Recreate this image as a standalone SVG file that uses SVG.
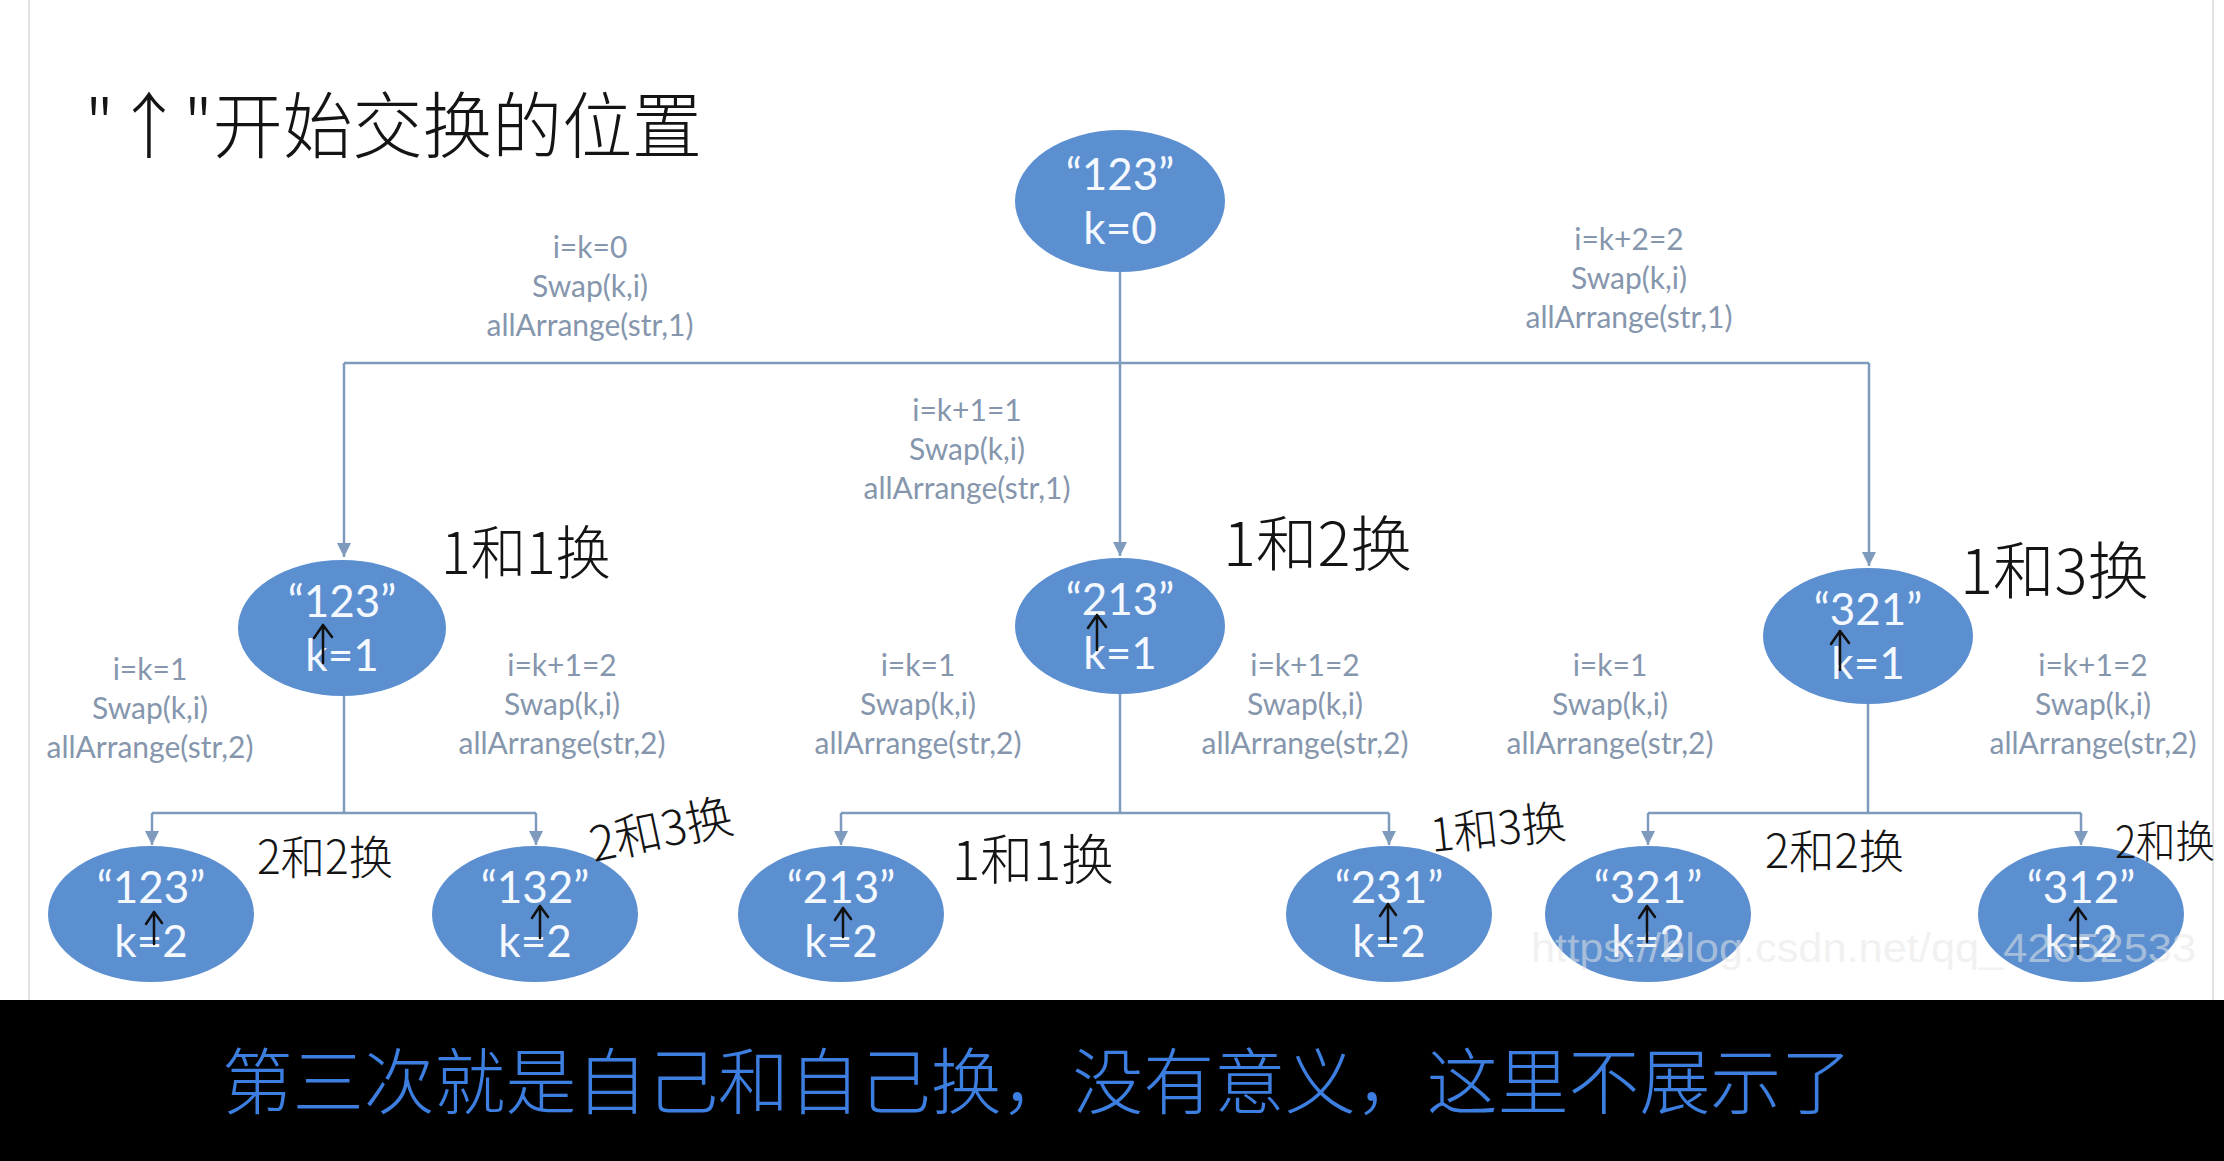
<svg xmlns="http://www.w3.org/2000/svg" width="2224" height="1161" viewBox="0 0 2224 1161">
<style>
.node ellipse{fill:#5b8fd0;}
.nt{font-family:Lato,"Liberation Sans",sans-serif;font-size:44px;fill:#f4f8ff;text-anchor:middle;}
.lbl{font-family:Lato,"Liberation Sans",sans-serif;font-size:30px;fill:#8596ad;text-anchor:middle;}
.conn path{stroke:#7e9bbd;stroke-width:2.5;fill:none;}
.hw{font-family:"Noto Sans CJK SC",sans-serif;font-weight:300;fill:#141414;}
.ha{stroke:#111;stroke-width:2.5;fill:none;stroke-linecap:round;stroke-linejoin:round;}
</style>
<defs>
<marker id="ah" markerWidth="16" markerHeight="16" refX="14" refY="7" orient="auto" markerUnits="userSpaceOnUse">
<path d="M0,0 L14,7 L0,14 Z" fill="#7e9bbd"/>
</marker>
</defs>
<rect x="0" y="0" width="2224" height="1161" fill="#ffffff"/>
<line x1="29" y1="0" x2="29" y2="1000" stroke="#e2e2e2" stroke-width="2"/>
<line x1="2213" y1="0" x2="2213" y2="1000" stroke="#e2e2e2" stroke-width="2"/>

<g id="connectors" class="conn">
<path d="M1120,272 V363"/>
<path d="M344,363 H1869"/>
<path d="M344,363 V557" marker-end="url(#ah)"/>
<path d="M1120,363 V556" marker-end="url(#ah)"/>
<path d="M1869,363 V566" marker-end="url(#ah)"/>
<path d="M344,696 V813"/>
<path d="M152,813 H536"/>
<path d="M152,813 V845" marker-end="url(#ah)"/>
<path d="M536,813 V845" marker-end="url(#ah)"/>
<path d="M1120,694 V813"/>
<path d="M841,813 H1389"/>
<path d="M841,813 V845" marker-end="url(#ah)"/>
<path d="M1389,813 V845" marker-end="url(#ah)"/>
<path d="M1868,704 V813"/>
<path d="M1648,813 H2081"/>
<path d="M1648,813 V845" marker-end="url(#ah)"/>
<path d="M2081,813 V845" marker-end="url(#ah)"/>
</g>

<g id="labels">
<text class="lbl" x="590" y="258">i=k=0</text>
<text class="lbl" x="590" y="297">Swap(k,i)</text>
<text class="lbl" x="590" y="336">allArrange(str,1)</text>
<text class="lbl" x="1629" y="250">i=k+2=2</text>
<text class="lbl" x="1629" y="289">Swap(k,i)</text>
<text class="lbl" x="1629" y="328">allArrange(str,1)</text>
<text class="lbl" x="967" y="421">i=k+1=1</text>
<text class="lbl" x="967" y="460">Swap(k,i)</text>
<text class="lbl" x="967" y="499">allArrange(str,1)</text>
<text class="lbl" x="150" y="680">i=k=1</text>
<text class="lbl" x="150" y="719">Swap(k,i)</text>
<text class="lbl" x="150" y="758">allArrange(str,2)</text>
<text class="lbl" x="562" y="676">i=k+1=2</text>
<text class="lbl" x="562" y="715">Swap(k,i)</text>
<text class="lbl" x="562" y="754">allArrange(str,2)</text>
<text class="lbl" x="918" y="676">i=k=1</text>
<text class="lbl" x="918" y="715">Swap(k,i)</text>
<text class="lbl" x="918" y="754">allArrange(str,2)</text>
<text class="lbl" x="1305" y="676">i=k+1=2</text>
<text class="lbl" x="1305" y="715">Swap(k,i)</text>
<text class="lbl" x="1305" y="754">allArrange(str,2)</text>
<text class="lbl" x="1610" y="676">i=k=1</text>
<text class="lbl" x="1610" y="715">Swap(k,i)</text>
<text class="lbl" x="1610" y="754">allArrange(str,2)</text>
<text class="lbl" x="2093" y="676">i=k+1=2</text>
<text class="lbl" x="2093" y="715">Swap(k,i)</text>
<text class="lbl" x="2093" y="754">allArrange(str,2)</text>
</g>

<g id="n0" class="node"><ellipse cx="1120" cy="201" rx="105" ry="71"/><text class="nt" x="1120" y="190">“123”</text><text class="nt" x="1120" y="244">k=0</text></g>
<g id="n1" class="node"><ellipse cx="342" cy="628" rx="104" ry="68"/><text class="nt" x="342" y="617">“123”</text><text class="nt" x="342" y="671">k=1</text></g>
<g id="n2" class="node"><ellipse cx="1120" cy="626" rx="105" ry="68"/><text class="nt" x="1120" y="615">“213”</text><text class="nt" x="1120" y="669">k=1</text></g>
<g id="n3" class="node"><ellipse cx="1868" cy="636" rx="105" ry="68"/><text class="nt" x="1868" y="625">“321”</text><text class="nt" x="1868" y="679">k=1</text></g>
<g id="n4" class="node"><ellipse cx="151" cy="914" rx="103" ry="68"/><text class="nt" x="151" y="903">“123”</text><text class="nt" x="151" y="957">k=2</text></g>
<g id="n5" class="node"><ellipse cx="535" cy="914" rx="103" ry="68"/><text class="nt" x="535" y="903">“132”</text><text class="nt" x="535" y="957">k=2</text></g>
<g id="n6" class="node"><ellipse cx="841" cy="914" rx="103" ry="68"/><text class="nt" x="841" y="903">“213”</text><text class="nt" x="841" y="957">k=2</text></g>
<g id="n7" class="node"><ellipse cx="1389" cy="914" rx="103" ry="68"/><text class="nt" x="1389" y="903">“231”</text><text class="nt" x="1389" y="957">k=2</text></g>
<g id="n8" class="node"><ellipse cx="1648" cy="914" rx="103" ry="68"/><text class="nt" x="1648" y="903">“321”</text><text class="nt" x="1648" y="957">k=2</text></g>
<g id="n9" class="node"><ellipse cx="2081" cy="914" rx="103" ry="68"/><text class="nt" x="2081" y="903">“312”</text><text class="nt" x="2081" y="957">k=2</text></g>

<text x="1531" y="962" font-family="Liberation Sans,sans-serif" font-size="40" fill="#e6e6e6" fill-opacity="0.55" textLength="665" lengthAdjust="spacingAndGlyphs">https://blog.csdn.net/qq_42652533</text>

<g id="hand-arrows">
<path class="ha" d="M323,663 V625 M314,638 L323,625 L332,637"/>
<path class="ha" d="M1097,650 V615 M1088,628 L1097,615 L1106,627"/>
<path class="ha" d="M1840,670 V631 M1831,644 L1840,631 L1849,643"/>
<path class="ha" d="M154,944 V912 M146,924 L154,912 L162,923"/>
<path class="ha" d="M540,938 V906 M532,918 L540,906 L548,917"/>
<path class="ha" d="M843,937 V908 M835,920 L843,908 L851,919"/>
<path class="ha" d="M1388,942 V904 M1380,916 L1388,904 L1396,915"/>
<path class="ha" d="M1647,942 V906 M1639,918 L1647,906 L1655,917"/>
<path class="ha" d="M2078,954 V908 M2070,920 L2078,908 L2086,919"/>
</g>

<g id="annotations">
<text class="hw" x="85" y="152" font-size="72" textLength="617" lengthAdjust="spacingAndGlyphs">"↑"开始交换的位置</text>
<text class="hw" x="441" y="574" font-size="58" textLength="170" lengthAdjust="spacingAndGlyphs">1和1换</text>
<text class="hw" x="1223" y="566" font-size="60" textLength="189" lengthAdjust="spacingAndGlyphs">1和2换</text>
<text class="hw" x="1960" y="594" font-size="62" textLength="189" lengthAdjust="spacingAndGlyphs">1和3换</text>
<text class="hw" x="257" y="874" font-size="46" textLength="136" lengthAdjust="spacingAndGlyphs">2和2换</text>
<text class="hw" x="594" y="862" font-size="48" textLength="145" lengthAdjust="spacingAndGlyphs" transform="rotate(-12 594 862)">2和3换</text>
<text class="hw" x="952" y="880" font-size="54" textLength="162" lengthAdjust="spacingAndGlyphs">1和1换</text>
<text class="hw" x="1432" y="852" font-size="46" textLength="136" lengthAdjust="spacingAndGlyphs" transform="rotate(-6 1432 852)">1和3换</text>
<text class="hw" x="1765" y="868" font-size="46" textLength="139" lengthAdjust="spacingAndGlyphs">2和2换</text>
<text class="hw" x="2115" y="858" font-size="44" textLength="100" lengthAdjust="spacingAndGlyphs">2和换</text>
</g>

<rect x="0" y="1000" width="2224" height="161" fill="#000000"/>
<text x="222" y="1108" font-family="Noto Sans CJK SC,sans-serif" font-weight="300" font-size="72" fill="#3d7fe0" textLength="1630" lengthAdjust="spacingAndGlyphs">第三次就是自己和自己换，没有意义，这里不展示了</text>
</svg>
